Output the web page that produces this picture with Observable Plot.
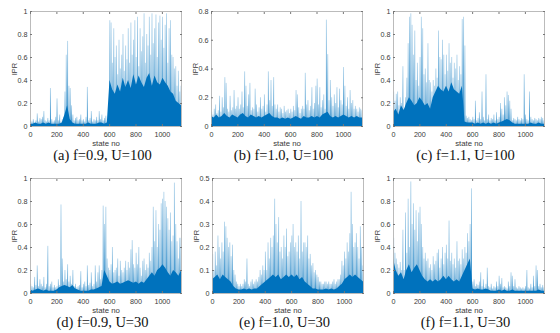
<!DOCTYPE html>
<html>
<head>
<meta charset="utf-8">
<script src="https://cdn.jsdelivr.net/npm/d3@7"></script>
<script src="https://cdn.jsdelivr.net/npm/@observablehq/plot@0.6"></script>
<style>
  body { margin: 0; background: #fff; }
  #wrap { position: relative; width: 560px; height: 333px; overflow: hidden; }
  .cap { position: absolute; font-family: "Liberation Serif", "Times New Roman", serif; font-size: 14.5px; line-height: 14.5px; color: #111; text-align: center; width: 180px; white-space: nowrap; }
</style>
</head>
<body>
<div id="wrap"></div>
<script>
// ---- Data: IPR per state (peaks every 10 states, dense base envelope) ----
const nStates = 1145;
const peakStep = 10;

const captions = ["(a) f=0.9, U=100", "(b) f=1.0, U=100", "(c) f=1.1, U=100",
                  "(d) f=0.9, U=30", "(e) f=1.0, U=30", "(f) f=1.1, U=30"];
const yMax = [1, 0.8, 1, 1, 0.5, 1];
const yTicksA = [0, 0.2, 0.4, 0.6, 0.8, 1];
const yTicksB = [0, 0.2, 0.4, 0.6, 0.8];
const yTicksE = [0, 0.1, 0.2, 0.3, 0.4, 0.5];
const xTicks = [0, 200, 400, 600, 800, 1000];
const xLabel = "state no";
const yLabel = "IPR";

const peakA = [0.05,0.04,0.06,0.03,0.05,0.11,0.04,0.07,0.06,0.08,
  0.13,0.05,0.04,0.07,0.05,0.33,0.06,0.04,0.05,0.08,
  0.24,0.05,0.10,0.04,0.06,0.08,0.30,0.62,0.74,0.35,
  0.33,0.18,0.10,0.05,0.07,0.08,0.05,0.06,0.10,0.05,
  0.06,0.04,0.08,0.34,0.05,0.07,0.13,0.04,0.06,0.05,
  0.08,0.05,0.13,0.06,0.10,0.05,0.07,0.09,0.04,0.08,
  0.92,0.90,0.55,0.85,0.60,0.70,0.45,0.75,0.50,0.62,
  0.80,0.48,0.70,0.58,0.85,0.55,0.90,0.62,0.75,0.92,
  0.60,0.95,0.52,0.85,0.65,0.78,0.98,0.55,0.80,0.70,
  0.95,0.62,0.98,0.72,0.85,0.97,0.60,0.90,0.96,0.75,
  0.95,0.68,0.88,0.98,0.55,0.85,0.92,0.62,0.60,0.50,
  0.52,0.35,0.48,0.30,0.35];
const baseA = [0.02,0.02,0.03,0.02,0.02,0.03,0.02,0.03,0.02,0.02,
  0.02,0.02,0.03,0.10,0.18,0.06,0.03,0.02,0.02,0.02,
  0.02,0.02,0.03,0.02,0.02,0.02,0.03,0.03,0.02,0.03,
  0.40,0.32,0.28,0.36,0.30,0.42,0.34,0.40,0.33,0.45,
  0.36,0.44,0.38,0.34,0.42,0.46,0.35,0.44,0.38,0.36,
  0.42,0.38,0.35,0.30,0.28,0.22,0.20,0.18];

const peakB = [0.10,0.08,0.12,0.15,0.09,0.11,0.21,0.10,0.20,0.13,
  0.34,0.30,0.12,0.10,0.21,0.11,0.13,0.25,0.12,0.14,
  0.20,0.12,0.15,0.24,0.13,0.38,0.28,0.14,0.22,0.30,
  0.11,0.13,0.12,0.26,0.15,0.10,0.13,0.20,0.12,0.14,
  0.22,0.10,0.15,0.38,0.18,0.32,0.14,0.34,0.15,0.12,
  0.15,0.10,0.13,0.12,0.09,0.14,0.10,0.11,0.12,0.09,
  0.12,0.10,0.14,0.11,0.25,0.22,0.13,0.09,0.12,0.14,
  0.12,0.37,0.15,0.18,0.11,0.14,0.27,0.12,0.16,0.28,
  0.33,0.15,0.27,0.13,0.18,0.22,0.12,0.74,0.50,0.18,
  0.32,0.20,0.14,0.22,0.16,0.27,0.13,0.26,0.18,0.15,
  0.41,0.28,0.14,0.20,0.12,0.25,0.16,0.18,0.12,0.14,
  0.12,0.10,0.13,0.12,0.11];
const baseB = [0.07,0.06,0.08,0.06,0.07,0.09,0.07,0.06,0.08,0.07,
  0.06,0.08,0.09,0.07,0.06,0.08,0.07,0.06,0.07,0.06,
  0.07,0.08,0.09,0.07,0.06,0.06,0.05,0.06,0.05,0.06,
  0.05,0.06,0.07,0.06,0.05,0.07,0.06,0.06,0.07,0.06,
  0.07,0.06,0.08,0.09,0.10,0.07,0.06,0.07,0.06,0.07,
  0.08,0.07,0.06,0.07,0.06,0.07,0.06,0.06];

const peakC = [0.30,0.22,0.28,0.30,0.18,0.25,0.20,0.52,0.15,0.25,
  0.42,0.72,0.95,0.98,0.88,0.62,0.83,0.40,0.55,0.35,
  0.60,0.95,0.85,0.45,0.50,0.38,0.72,0.40,0.38,0.30,
  0.40,0.35,0.50,0.42,0.83,0.60,0.58,0.75,0.62,0.45,
  0.62,0.48,0.72,0.55,0.60,0.42,0.55,0.50,0.62,0.40,
  0.52,0.45,0.93,0.95,0.70,0.09,0.07,0.08,0.06,0.05,
  0.08,0.06,0.22,0.05,0.07,0.12,0.06,0.30,0.08,0.05,
  0.45,0.06,0.10,0.05,0.07,0.06,0.10,0.05,0.12,0.06,
  0.08,0.20,0.15,0.10,0.25,0.18,0.30,0.27,0.22,0.15,
  0.05,0.07,0.06,0.05,0.08,0.06,0.05,0.07,0.06,0.45,
  0.10,0.06,0.05,0.30,0.08,0.06,0.05,0.07,0.06,0.05,
  0.07,0.06,0.08,0.07,0.05];
const baseC = [0.12,0.15,0.10,0.18,0.14,0.20,0.25,0.22,0.18,0.20,
  0.25,0.22,0.18,0.20,0.15,0.25,0.30,0.35,0.32,0.30,
  0.35,0.30,0.38,0.32,0.30,0.28,0.35,0.04,0.03,0.03,
  0.03,0.02,0.03,0.02,0.03,0.02,0.03,0.02,0.03,0.02,
  0.03,0.04,0.05,0.06,0.05,0.03,0.02,0.02,0.02,0.02,
  0.02,0.02,0.03,0.02,0.02,0.03,0.02,0.02];

const peakD = [0.08,0.06,0.05,0.14,0.07,0.24,0.06,0.12,0.08,0.06,
  0.14,0.05,0.08,0.41,0.06,0.08,0.10,0.05,0.07,0.05,
  0.06,0.12,0.07,0.77,0.30,0.10,0.20,0.12,0.25,0.10,
  0.15,0.08,0.20,0.06,0.08,0.05,0.06,0.07,0.19,0.05,
  0.08,0.10,0.06,0.24,0.07,0.09,0.18,0.06,0.08,0.24,
  0.10,0.18,0.24,0.12,0.20,0.76,0.60,0.75,0.30,0.22,
  0.20,0.25,0.40,0.18,0.20,0.22,0.30,0.15,0.28,0.20,
  0.18,0.22,0.28,0.20,0.27,0.22,0.38,0.46,0.25,0.22,
  0.35,0.25,0.40,0.22,0.15,0.28,0.30,0.20,0.25,0.22,
  0.35,0.28,0.40,0.75,0.45,0.72,0.40,0.60,0.55,0.78,
  0.82,0.88,0.80,0.75,0.65,0.55,0.70,0.45,0.50,0.96,
  0.60,0.45,0.30,0.48,0.48];
const baseD = [0.03,0.02,0.03,0.04,0.03,0.02,0.03,0.02,0.02,0.02,
  0.03,0.05,0.06,0.07,0.06,0.05,0.07,0.04,0.03,0.02,
  0.02,0.02,0.02,0.03,0.03,0.04,0.05,0.06,0.20,0.15,
  0.10,0.08,0.09,0.10,0.08,0.09,0.10,0.11,0.10,0.09,
  0.10,0.08,0.10,0.09,0.12,0.15,0.18,0.15,0.20,0.22,
  0.25,0.22,0.18,0.15,0.20,0.18,0.15,0.20];

const peakE = [0.17,0.10,0.18,0.12,0.25,0.20,0.15,0.22,0.18,0.31,
  0.29,0.24,0.20,0.22,0.16,0.21,0.10,0.08,0.05,0.04,
  0.03,0.04,0.03,0.04,0.06,0.05,0.15,0.04,0.03,0.05,
  0.06,0.04,0.05,0.06,0.05,0.07,0.10,0.08,0.12,0.10,
  0.18,0.10,0.22,0.15,0.24,0.20,0.25,0.41,0.30,0.22,
  0.33,0.18,0.20,0.15,0.25,0.20,0.28,0.16,0.18,0.22,
  0.25,0.30,0.20,0.22,0.18,0.25,0.15,0.40,0.18,0.22,
  0.22,0.20,0.25,0.15,0.17,0.12,0.13,0.09,0.10,0.08,
  0.07,0.05,0.05,0.04,0.04,0.05,0.05,0.04,0.05,0.04,
  0.04,0.05,0.06,0.04,0.05,0.06,0.06,0.08,0.14,0.12,
  0.18,0.15,0.22,0.18,0.26,0.44,0.30,0.20,0.22,0.26,
  0.20,0.15,0.29,0.20,0.12];
const baseE = [0.06,0.07,0.08,0.06,0.08,0.07,0.06,0.05,0.03,0.02,
  0.015,0.015,0.02,0.015,0.02,0.015,0.02,0.02,0.03,0.04,
  0.05,0.06,0.07,0.08,0.07,0.08,0.06,0.07,0.08,0.07,
  0.08,0.07,0.08,0.06,0.07,0.05,0.04,0.03,0.02,0.02,
  0.015,0.015,0.015,0.02,0.015,0.02,0.015,0.02,0.03,0.04,
  0.06,0.07,0.08,0.07,0.08,0.07,0.06,0.05];

const peakF = [0.48,0.35,0.30,0.25,0.22,0.27,0.20,0.55,0.20,0.70,
  0.35,0.82,0.40,0.97,0.60,0.78,0.55,0.72,0.45,0.70,
  0.75,0.60,0.40,0.30,0.35,0.28,0.30,0.22,0.25,0.20,
  0.32,0.25,0.28,0.35,0.38,0.22,0.30,0.40,0.25,0.35,
  0.42,0.30,0.63,0.28,0.35,0.25,0.30,0.22,0.45,0.28,
  0.30,0.25,0.38,0.30,0.40,0.35,0.52,0.45,0.60,0.91,
  0.10,0.12,0.06,0.08,0.07,0.10,0.18,0.06,0.12,0.05,
  0.08,0.22,0.06,0.05,0.08,0.04,0.06,0.05,0.10,0.06,
  0.15,0.08,0.13,0.05,0.06,0.05,0.04,0.10,0.06,0.18,
  0.15,0.06,0.12,0.05,0.04,0.06,0.05,0.04,0.05,0.04,
  0.06,0.20,0.05,0.04,0.08,0.05,0.15,0.06,0.24,0.20,
  0.06,0.08,0.05,0.07,0.05];
const baseF = [0.30,0.20,0.15,0.18,0.12,0.20,0.25,0.18,0.22,0.25,
  0.20,0.15,0.12,0.10,0.12,0.10,0.12,0.10,0.12,0.15,
  0.12,0.15,0.12,0.10,0.12,0.10,0.15,0.20,0.25,0.30,
  0.04,0.03,0.04,0.03,0.03,0.04,0.03,0.02,0.02,0.02,
  0.03,0.02,0.03,0.02,0.02,0.03,0.02,0.02,0.02,0.02,
  0.02,0.02,0.02,0.02,0.02,0.03,0.02,0.02];

const peaks = [peakA, peakB, peakC, peakD, peakE, peakF];
const bases = [baseA, baseB, baseC, baseD, baseE, baseF];
const yTicks = [yTicksA, yTicksB, yTicksA, yTicksA, yTicksE, yTicksA];

// ---- Layout ----
const plotLeft = [30, 211, 393, 30, 212, 393];
const plotTop = [11, 11, 11, 178, 178, 178];
const pw = 151, ph = 115;
const ML = 30, MR = 4, MT = 4, MB = 24;
const capTop = [147.5, 147.5, 147.5, 314.5, 314.5, 314.5];
const blue = "#0072BD";
const fmt = d3.format("~g");
const noText = () => "";
const font = "'Liberation Sans', Arial, sans-serif";

const wrap = document.getElementById("wrap");
for (let k = 0; k < 6; k++) {
  const pk = peaks[k].map((v, i) => ({s: i * peakStep + peakStep / 2, v}));
  const nb = bases[k].length;
  const bs = bases[k].map((v, i) => ({s: i * nStates / (nb - 1), v}));
  const chart = Plot.plot({
    width: pw + ML + MR,
    height: ph + MT + MB,
    marginLeft: ML, marginRight: MR, marginTop: MT, marginBottom: MB,
    style: {fontFamily: font, fontSize: "7.2px", color: "#3a3a3a", background: "transparent", overflow: "visible"},
    x: {domain: [0, nStates]},
    y: {domain: [0, yMax[k]]},
    marks: [
      Plot.rectY(pk, {x1: d => d.s - 3.6, x2: d => d.s + 3.6, y: "v", fill: blue, clip: true}),
      Plot.areaY(bs, {x: "s", y: "v", fill: blue, clip: true}),
      Plot.frame({stroke: "#b4b4b4", strokeWidth: 0.9}),
      // tick labels (no tick lines) + inward tick marks on all four sides
      Plot.axisX({ticks: xTicks, tickFormat: fmt, tickSize: 0, tickPadding: 5, label: null}),
      Plot.axisX({anchor: "bottom", ticks: xTicks, tickFormat: noText, tickSize: -2, stroke: "#777", label: null}),
      Plot.axisX({anchor: "top", ticks: xTicks, tickFormat: noText, tickSize: -2, stroke: "#777", label: null}),
      Plot.axisY({ticks: yTicks[k], tickFormat: fmt, tickSize: 0, tickPadding: 3, label: null}),
      Plot.axisY({anchor: "left", ticks: yTicks[k], tickFormat: noText, tickSize: -2, stroke: "#777", label: null}),
      Plot.axisY({anchor: "right", ticks: yTicks[k], tickFormat: noText, tickSize: -2, stroke: "#777", label: null}),
      Plot.text([xLabel], {frameAnchor: "bottom", dy: 17, lineAnchor: "middle", textAnchor: "middle", text: d => d, fontSize: 7.8, fill: "#3a3a3a"}),
      Plot.text([yLabel], {frameAnchor: "left", dx: -16, rotate: -90, lineAnchor: "middle", textAnchor: "middle", text: d => d, fontSize: 7.5, fill: "#3a3a3a"})
    ]
  });
  const svg = d3.select(chart);
  svg.insert("defs", ":first-child").html(
    `<linearGradient id="spk${k}" x1="0" y1="0" x2="0" y2="1">
       <stop offset="0" stop-color="${blue}" stop-opacity="0.28"/>
       <stop offset="0.5" stop-color="${blue}" stop-opacity="0.6"/>
       <stop offset="1" stop-color="${blue}" stop-opacity="0.92"/>
     </linearGradient>`);
  svg.selectAll('g[aria-label="rect"] rect').attr("fill", `url(#spk${k})`);
  chart.style.position = "absolute";
  chart.style.left = (plotLeft[k] - ML) + "px";
  chart.style.top = (plotTop[k] - MT) + "px";
  wrap.appendChild(chart);
  const cap = document.createElement("div");
  cap.className = "cap";
  cap.textContent = captions[k];
  cap.style.left = (plotLeft[k] + pw / 2 - 90 - 3) + "px";
  cap.style.top = capTop[k] + "px";
  wrap.appendChild(cap);
}
</script>
</body>
</html>
